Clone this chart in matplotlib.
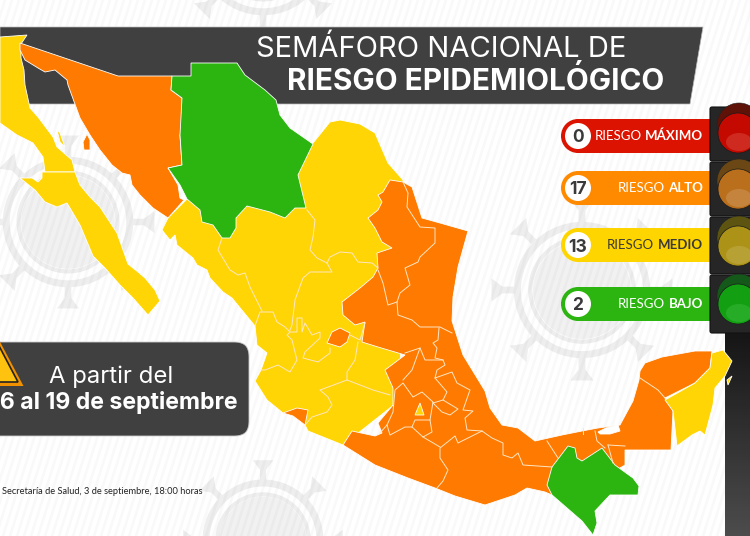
import numpy as np
import matplotlib
matplotlib.use("Agg")
import matplotlib.pyplot as plt
from matplotlib.patches import Polygon, Circle, FancyBboxPatch, Rectangle, Ellipse

ORANGE = "#FF7A00"
YELLOW = "#FFD505"
GREEN = "#2CB510"
DARK = "#404040"

# legend
risk_counts = ["0", "17", "13", "2"]
risk_bold = ["MÁXIMO", "ALTO", "MEDIO", "BAJO"]
risk_colors = ["#DB1300", "#FF8A00", "#FFD500", "#2CB510"]
risk_text = ["white", "white", "#3a3a3a", "white"]
lens_colors = ["#C40A00", "#B96F1C", "#AC9318", "#12A012"]
lens_light = ["#D84A40", "#CF9A5E", "#C4B050", "#3DB83D"]
hood_colors = ["#5E1208", "#6A4714", "#5C5410", "#14581A"]

# map outlines
baja_norte = [(0,37),(27,35),(21,44),(21,58),(24,70),(25,85),(30,108),(38,117),(53,137),(57,147),(72,160),
              (75,172),(45,172),(43,157),(33,143),(17,135),(0,123)]
baja_sur = [(20,178),(32,178),(38,182),(42,178),(42,172),(75,172),(80,185),(90,197),(100,207),(117,233),
            (128,264),(138,272),(145,278),(155,290),(160,301),(148,315),(133,298),(120,285),
            (105,268),(93,256),(80,225),(67,203),(57,207),(45,202),(35,190)]
sonora = [(20,43),(118,76),(172,76),(171,90),(182,98),(182,130),(180,135),(182,165),(168,168),(178,185),
          (180,198),(184,200),(168,218),(153,208),(140,195),(132,185),(130,175),(122,173),(112,165),
          (100,150),(90,135),(80,118),(68,85),(67,80),(55,70),(45,72),(38,68),(25,60),(20,50)]
tiburon = [(87,134),(90,140),(90,150),(84,150),(83,142)]
isla_baja = [(57,130),(60,133),(65,147),(60,142)]
chihuahua = [(191,63),(237,63),(245,75),(265,90),(276,100),(280,115),(290,128),(313,144),(298,175),
             (306,208),(295,208),(285,218),(270,212),(247,206),(236,218),(236,228),(230,238),(222,238),
             (213,225),(202,222),(200,210),(187,199),(180,185),(168,168),(182,165),(180,135),(182,98),
             (171,90),(172,76),(191,76)]
yellow_land = [(313,143),(330,122),(340,120),(360,124),(375,133),(388,163),(403,180),(400,400),(343,445),
               (308,431),(305,425),(293,416),(283,413),(267,400),(255,381),(261,370),(267,353),(257,345),
               (255,326),(232,298),(223,292),(210,278),(207,270),(197,265),(193,258),(177,245),(175,235),
               (170,240),(162,230),(168,218),(187,199),(250,170)]
orange_land = [(403,182),(412,187),(422,218),(440,223),(468,231),(458,267),(453,297),(452,321),(463,355),
               (485,391),(490,408),(502,425),(518,428),(535,441),(562,435),(582,431),(598,428),(620,425),
               (633,401),(639,380),(640,371),(645,363),(662,357),(695,351),(712,351),(710,368),(695,383),
               (665,398),(673,411),(671,450),(625,450),(625,465),(600,480),(552,495),(545,492),(527,488),
               (515,495),(485,505),(455,496),(435,488),(408,478),(375,465),(343,445),(352,431),(375,436),
               (382,433),(378,423),(393,405),(393,388),(385,370),(405,355),(378,347),(362,342),(365,322),
               (355,325),(343,315),(342,302),(360,288),(373,277),(378,268),(377,253),(392,248),(382,242),
               (375,228),(368,218),(378,210),(382,202),(378,195),(383,192),(390,180)]
chiapas = [(552,467),(568,446),(575,448),(577,458),(582,461),(602,448),(615,465),(633,478),(639,486),
           (638,495),(610,495),(595,511),(597,523),(593,535),(582,521),(552,495),(547,485)]
quintana_roo = [(712,353),(723,350),(732,361),(725,376),(715,388),(713,405),(705,435),(700,431),(692,435),
                (677,446),(673,411),(665,400),(695,383),(710,368)]
cozumel = [(727,380),(732,376),(728,385)]
colima = [(283,413),(297,408),(308,410),(305,425),(293,416)]
aguascalientes = [(327,343),(332,332),(340,328),(350,333),(347,342),(340,347)]
cdmx = [(420,403),(424,415),(415,415)]
laguna = [(598,432),(606,428),(618,425),(620,431),(610,434),(600,434)]

# state borders inside the colored areas
borders = [
    [(307,210),(315,220),(313,237),(310,250),(317,258),(327,263),(332,272),(310,272),(303,278),(295,300),(292,325),(290,330)],
    [(327,263),(330,257),(340,252),(352,253),(358,262),(372,263),(378,268)],
    [(222,238),(218,250),(230,270),(238,275),(245,273),(250,287),(262,311)],
    [(255,326),(260,312),(273,312),(277,322),(285,327),(290,332),(287,335),(292,340),(297,360),(290,372),(278,365),(265,370),(261,370)],
    [(290,332),(297,332),(297,318),(302,318),(302,332),(305,323),(312,335),(320,332),(320,338),(305,352),(303,358),(318,362),(330,353),(330,348)],
    [(350,335),(360,340),(365,323)],
    [(358,342),(355,360),(347,372),(347,380),(320,390),(328,397),(332,405),(327,412),(312,417),(305,425)],
    [(347,380),(373,390),(390,395)],
    [(403,182),(408,193),(407,207),(420,227),(435,228),(435,243),(420,257),(418,262),(405,268),(410,285),(400,293),(397,302),(388,305),(383,283),(378,270)],
    [(397,302),(398,315),(412,320),(420,327),(440,327),(452,333)],
    [(439,328),(438,340),(433,343),(437,348),(435,358),(443,360),(445,365),(437,370),(435,378),(452,372),(457,383),(470,390),
     (463,410),(473,411),(465,418),(467,430),(482,431),(492,438),(503,443),(503,455),(512,458),(518,453),(523,465),(552,467)],
    [(482,431),(458,443),(455,436),(440,448),(440,458),(448,470),(443,481),(437,488)],
    [(380,433),(387,425),(390,435),(405,427),(412,427),(423,437),(440,447)],
    [(412,427),(415,420),(430,420),(432,432),(423,437)],
    [(387,425),(393,412),(395,390),(403,383),(413,397),(422,392),(433,402),(430,420)],
    [(433,403),(443,400),(458,409),(450,415),(442,412),(433,403)],
    [(403,380),(412,370),(420,348),(425,360),(443,360)],
    [(435,378),(447,392),(443,400)],
    [(405,353),(420,348)],
    [(547,441),(558,458)],
    [(583,428),(583,434)],
    [(595,431),(597,441),(605,448)],
    [(608,445),(625,446)],
    [(613,463),(608,445)],
    [(640,378),(658,390),(665,398)],
]

# virus watermarks: center x, center y, radius
virus_x = [68, 582, 263, 263]
virus_y = [222, 290, 540, -50]
virus_r = [65, 68, 60, 65]

fig = plt.figure(figsize=(7.5, 5.36), dpi=100)
ax = fig.add_axes([0, 0, 1, 1])
ax.set_xlim(0, 750)
ax.set_ylim(536, 0)
ax.axis("off")
fig.patch.set_facecolor("white")

GREY = "#EEEEEE"
for cx, cy, r in zip(virus_x, virus_y, virus_r):
    ax.add_patch(Circle((cx, cy), r * 0.72, fc="#F1F1F1", ec="none", zorder=1))
    ax.add_patch(Circle((cx, cy), r * 0.95, fc="none", ec=GREY, lw=5, zorder=1))
    ax.add_patch(Circle((cx, cy), r * 0.76, fc="none", ec=GREY, lw=3, zorder=1))
    for a in np.deg2rad(np.arange(0, 360, 45)):
        ux, uy = np.cos(a), np.sin(a)
        px, py = -uy, ux
        stem = (cx + ux * r * 1.0, cy + uy * r * 1.0)
        neck = (cx + ux * r * 1.17, cy + uy * r * 1.17)
        tip = (cx + ux * r * 1.33, cy + uy * r * 1.33)
        w = r * 0.05
        W = r * 0.17
        ax.add_patch(Polygon([(stem[0] + px * w, stem[1] + py * w), (stem[0] - px * w, stem[1] - py * w),
                              (neck[0] - px * w, neck[1] - py * w), (tip[0] - px * W, tip[1] - py * W),
                              (tip[0] + px * W, tip[1] + py * W), (neck[0] + px * w, neck[1] + py * w)],
                             fc=GREY, ec="none", zorder=1))

# diagonal stripes of the background
for x0 in np.arange(-200, 760, 7):
    ax.plot([x0, x0 + 170], [536, 0], color="#000000", alpha=0.022, lw=2, zorder=1.5)

# title band
ax.add_patch(Polygon([(0, 27), (703, 27), (690, 104), (0, 104)], fc=DARK, ec="#BBBBBB", lw=0.5, zorder=2))

# traffic light pole
grad = np.linspace(0, 1, 64).reshape(-1, 1)
ax.imshow(grad, extent=[725, 750, 536, 333], cmap=matplotlib.colors.LinearSegmentedColormap.from_list("p", ["#161616", "#4C4C4C"]),
          aspect="auto", zorder=2)
ax.set_xlim(0, 750)
ax.set_ylim(536, 0)

# map
fills = [(baja_norte, YELLOW), (baja_sur, YELLOW), (isla_baja, YELLOW), (yellow_land, YELLOW), (orange_land, ORANGE),
         (sonora, ORANGE), (tiburon, ORANGE), (chihuahua, GREEN), (chiapas, GREEN), (quintana_roo, YELLOW),
         (cozumel, YELLOW), (colima, ORANGE), (aguascalientes, ORANGE), (cdmx, YELLOW), (laguna, "white")]
for pts, col in fills:
    ax.add_patch(Polygon(pts, fc=col, ec="#FFFFFF", lw=0.6, zorder=3))
for line in borders:
    xs, ys = zip(*line)
    ax.plot(xs, ys, color="#FFE6C4", lw=0.7, zorder=4, solid_joinstyle="round")

# legend pills
pill_top = [119, 171, 228, 287]
pill_h = 34
lens_cy = [133, 189, 246, 304]
for i in range(4):
    y = pill_top[i]
    ax.add_patch(Rectangle((578, y), 140, pill_h, fc=risk_colors[i], ec="none", zorder=5))
    ax.add_patch(Circle((578, y + pill_h / 2), pill_h / 2, fc=risk_colors[i], ec="none", zorder=5))
    ax.add_patch(Circle((578, y + pill_h / 2), 13, fc="white", ec="none", zorder=6))
    ax.text(578, y + pill_h / 2, risk_counts[i], ha="center", va="center_baseline", fontsize=12.5, fontweight="bold",
            family="Inter", color="#3a3a3a", zorder=7)
    t = ax.text(703, y + pill_h / 2 - 1, risk_bold[i], ha="right", va="center_baseline", fontsize=9.5, fontweight="bold",
                family="Lato", color=risk_text[i], zorder=7)
    bb = t.get_window_extent(fig.canvas.get_renderer())
    ax.text(bb.x0 * 750 / fig.bbox.width - 3.5, y + pill_h / 2 - 1, "RIESGO", ha="right", va="center_baseline", fontsize=9.5,
            family="Lato", color=risk_text[i], zorder=7)

# traffic light housing
sec_top = [107, 162, 217, 275]
sec_bot = [161, 216, 274, 333]
for i in range(4):
    ax.add_patch(FancyBboxPatch((710, sec_top[i]), 60, sec_bot[i] - sec_top[i], boxstyle="round,pad=0,rounding_size=2",
                                fc="#262626", ec="#111111", lw=0.8, zorder=6))
    cy = lens_cy[i]
    ax.add_patch(Circle((739, cy - 8), 22, fc=hood_colors[i], ec="#222222", lw=0.4, zorder=7))
    ax.add_patch(Circle((738, cy), 20, fc=lens_colors[i], ec="#1a1a1a", lw=0.5, zorder=8))
    ax.add_patch(Ellipse((739, cy + 9), 26, 18, fc=lens_light[i], ec="none", alpha=0.5, zorder=9))

# date box
ax.add_patch(FancyBboxPatch((-30, 342), 279, 94, boxstyle="round,pad=0,rounding_size=14", fc=DARK, ec="#CCCCCC", lw=0.6, zorder=5))
ax.text(111, 377, "A partir del", ha="center", va="center", fontsize=17.2, family="Inter", color="white", zorder=6)
ax.text(238, 403, "16 al 19 de septiembre", ha="right", va="center", fontsize=16.6, fontweight="bold", family="Inter", color="white", zorder=6)

# warning sign
ax.add_patch(Polygon([(-26, 386), (23.5, 386), (-2, 338)], fc="#F29100", ec="none", zorder=6))
ax.add_patch(Polygon([(-22, 382), (18, 382), (-2, 344)], fc="#FFC20E", ec="#222222", lw=1.2, zorder=7))

# title
ax.text(441, 49, "SEMÁFORO NACIONAL DE", ha="center", va="center", fontsize=21, family="Inter", color="white", zorder=6)
ax.text(475.5, 81, "RIESGO EPIDEMIOLÓGICO", ha="center", va="center", fontsize=21.4, fontweight="bold", family="Inter", color="white", zorder=6)

# source
ax.text(2, 491, "Secretaría de Salud, 3 de septiembre, 18:00 horas", ha="left", va="center", fontsize=6.7, family="Lato", color="#222222", zorder=6)

fig.savefig("out.png", dpi=100)
